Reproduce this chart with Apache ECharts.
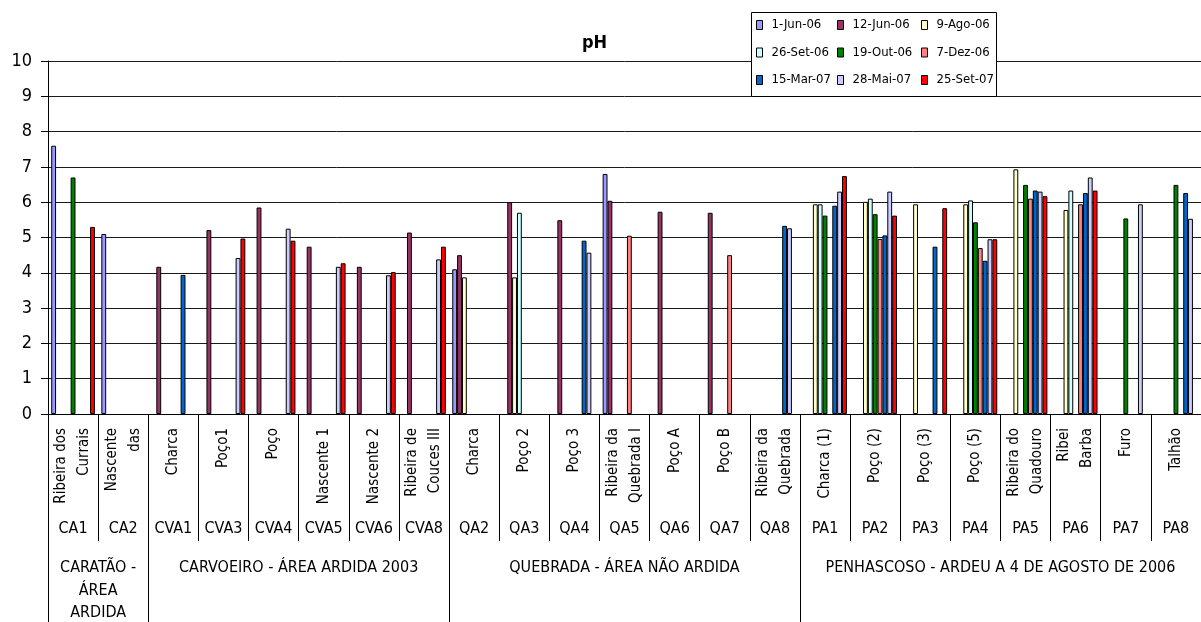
<!DOCTYPE html>
<html>
<head>
<meta charset="utf-8">
<script src="https://cdn.jsdelivr.net/npm/echarts@6/dist/echarts.min.js"></script>
<style>
  html, body { margin: 0; padding: 0; background: #fff; }
  #chart { width: 1201px; height: 622px; }
</style>
</head>
<body>
<div id="chart"></div>
<script>
// Sampling point codes and site names (one per category)
const codes = ['CA1', 'CA2', 'CVA1', 'CVA3', 'CVA4', 'CVA5', 'CVA6', 'CVA8',
  'QA2', 'QA3', 'QA4', 'QA5', 'QA6', 'QA7', 'QA8',
  'PA1', 'PA2', 'PA3', 'PA4', 'PA5', 'PA6', 'PA7', 'PA8'];
const sites = ['Ribeira dos\nCurrais', 'Nascente\ndas', 'Charca', 'Poço1', 'Poço', 'Nascente 1', 'Nascente 2', 'Ribeira de\nCouces III',
  'Charca', 'Poço 2', 'Poço 3', 'Ribeira da\nQuebrada I', 'Poço A', 'Poço B', 'Ribeira da\nQuebrada',
  'Charca (1)', 'Poço (2)', 'Poço (3)', 'Poço (5)', 'Ribeira do\nQuadouro', 'Ribei\nBarba', 'Furo', 'Talhão'];

// Study areas: label and first/last category index
const groupNames = ['CARATÃO -\nÁREA\nARDIDA', 'CARVOEIRO - ÁREA ARDIDA 2003',
  'QUEBRADA - ÁREA NÃO ARDIDA', 'PENHASCOSO - ARDEU A 4 DE AGOSTO DE 2006'];
const groupFirst = [0, 2, 8, 15];
const groupLast = [1, 7, 14, 22];

// Sampling campaigns
const campaigns = ['1-Jun-06', '12-Jun-06', '9-Ago-06', '26-Set-06', '19-Out-06',
  '7-Dez-06', '15-Mar-07', '28-Mai-07', '25-Set-07'];
const campaignColors = ['#9999FF', '#993366', '#FFFFCC', '#CCFFFF', '#008000',
  '#FF8080', '#0066CC', '#CCCCFF', '#FF0000'];

// pH per campaign, in category order (null = not sampled)
const ph_1Jun06 = [7.6, 5.1, null, null, null, null, null, null,
  4.1, null, null, 6.8, null, null, null,
  null, null, null, null, null, null, null, null];
const ph_12Jun06 = [null, null, 4.17, 5.21, 5.85, 4.74, 4.17, 5.14,
  4.5, 6.0, 5.49, 6.04, 5.73, 5.7, null,
  null, null, null, null, null, null, null, null];
const ph_9Ago06 = [null, null, null, null, null, null, null, null,
  3.87, 3.87, null, null, null, null, null,
  5.94, 6.01, 5.94, 5.94, 6.93, 5.78, null, null];
const ph_26Set06 = [null, null, null, null, null, null, null, null,
  null, 5.7, null, null, null, null, null,
  5.94, 6.1, null, 6.05, null, 6.33, null, null];
const ph_19Out06 = [6.7, null, null, null, null, null, null, null,
  null, null, null, null, null, null, null,
  5.62, 5.66, null, 5.43, 6.49, null, 5.54, 6.49];
const ph_7Dez06 = [null, null, null, null, null, null, null, null,
  null, null, null, 5.05, null, 4.5, null,
  null, 4.96, null, 4.7, 6.1, 5.94, null, null];
const ph_15Mar07 = [null, null, 3.94, null, null, null, null, null,
  null, null, 4.91, null, null, null, 5.33,
  5.9, 5.06, 4.74, 4.34, 6.33, 6.26, null, 6.26];
const ph_28Mai07 = [null, null, null, 4.42, 5.25, 4.17, 3.93, 4.38,
  null, null, 4.57, null, null, null, 5.26,
  6.3, 6.3, null, 4.95, 6.3, 6.7, 5.94, 5.53];
const ph_25Set07 = [5.3, null, null, 4.97, 4.91, 4.27, 4.02, 4.74,
  null, null, null, null, null, null, null,
  6.74, 5.62, 5.83, 4.95, 6.17, 6.33, null, null];

const campaignValues = [ph_1Jun06, ph_12Jun06, ph_9Ago06, ph_26Set06, ph_19Out06,
  ph_7Dez06, ph_15Mar07, ph_28Mai07, ph_25Set07];

const yTicks = [0, 1, 2, 3, 4, 5, 6, 7, 8, 9, 10];

const FONT = "'Liberation Sans Narrow', 'Arial Narrow', 'DejaVu Sans Condensed', 'Liberation Sans', Arial, sans-serif";

const chart = echarts.init(document.getElementById('chart'), null, { renderer: 'canvas' });

const series = campaigns.map((name, i) => ({
  name: name,
  type: 'bar',
  xAxisIndex: 0,
  yAxisIndex: 0,
  data: campaignValues[i],
  barGap: '0%',
  barCategoryGap: '12.8%',
  itemStyle: { color: campaignColors[i], borderColor: '#000', borderWidth: 1 },
  emphasis: { disabled: true },
  animation: false
}));

// Legend laid out as 3 columns x 3 rows
const legendCols = [[0, 3, 6], [1, 4, 7], [2, 5, 8]];
const legendLeft = [756, 837, 921];
const legends = legendCols.map((col, c) => ({
  orient: 'vertical',
  left: legendLeft[c],
  top: 17,
  padding: 0,
  z: 20,
  itemWidth: 6,
  itemHeight: 9,
  itemGap: 11.5,
  icon: 'rect',
  selectedMode: false,
  itemStyle: { borderColor: '#000', borderWidth: 1 },
  textStyle: { fontFamily: FONT, fontSize: 13, color: '#000', lineHeight: 16, padding: [0, 0, 0, 4] },
  data: col.map(k => campaigns[k])
}));

chart.setOption({
  animation: false,
  backgroundColor: '#fff',
  title: {
    text: 'pH',
    left: 582,
    top: 34,
    padding: 0,
    textStyle: { fontFamily: FONT, fontSize: 18, fontWeight: 'bold', color: '#000' }
  },
  legend: legends,
  grid: { left: 48, top: 61, height: 353, width: 1164, containLabel: false },
  xAxis: [
    {
      type: 'category',
      data: codes,
      axisLine: { show: true, lineStyle: { color: '#000', width: 1 } },
      axisTick: { show: true, interval: 0, length: 127, lineStyle: { color: '#000', width: 1 } },
      axisLabel: {
        interval: 0, rotate: 90, margin: 14,
        fontFamily: FONT, fontSize: 15, lineHeight: 23, color: '#000',
        formatter: (v, idx) => sites[idx]
      },
      splitLine: { show: false }
    },
    {
      type: 'category',
      gridIndex: 0,
      position: 'bottom',
      data: codes,
      axisLine: { show: false },
      axisTick: { show: false },
      axisLabel: { interval: 0, margin: 107, fontFamily: FONT, fontSize: 16, color: '#000' },
      splitLine: { show: false }
    }
  ],
  yAxis: {
    type: 'value',
    min: yTicks[0],
    max: yTicks[yTicks.length - 1],
    interval: 1,
    axisLine: { show: true, lineStyle: { color: '#000', width: 1 } },
    axisTick: { show: true, length: 7, lineStyle: { color: '#000' } },
    axisLabel: { margin: 16, fontFamily: FONT, fontSize: 18, color: '#000' },
    splitLine: { show: true, lineStyle: { color: '#1a1a1a', width: 1 } }
  },
  series: series
});

// Frame lines below the axis, study-area labels and legend box
function drawExtras() {
  const center = i => chart.convertToPixel({ xAxisIndex: 0 }, codes[i]);
  const band = center(1) - center(0);
  const yBase = chart.convertToPixel({ yAxisIndex: 0 }, 0);
  const bottom = 622;
  const elements = [];
  const leftEdge = Math.round(center(0) - band / 2) + 0.5;
  elements.push({
    type: 'line', z: 5, silent: true,
    shape: { x1: leftEdge, y1: yBase, x2: leftEdge, y2: bottom },
    style: { stroke: '#000', lineWidth: 1 }
  });
  groupNames.forEach((name, g) => {
    const x1 = center(groupFirst[g]);
    const x2 = center(groupLast[g]);
    if (g < groupNames.length - 1) {
      const bx = Math.round(x2 + band / 2) + 0.5;
      elements.push({
        type: 'line', z: 5, silent: true,
        shape: { x1: bx, y1: yBase, x2: bx, y2: bottom },
        style: { stroke: '#000', lineWidth: 1 }
      });
    }
    elements.push({
      type: 'text', z: 5, silent: true,
      x: (x1 + x2) / 2, y: 557,
      style: {
        text: name, align: 'center', verticalAlign: 'top',
        font: '16px ' + FONT, lineHeight: 22.5, fill: '#000'
      }
    });
  });
  elements.push({
    type: 'rect', z: 10, silent: true,
    shape: { x: 751.5, y: 12.5, width: 245, height: 84 },
    style: { fill: '#fff', stroke: '#000', lineWidth: 1 }
  });
  chart.setOption({ graphic: { elements: elements } });
}
drawExtras();
</script>
</body>
</html>
